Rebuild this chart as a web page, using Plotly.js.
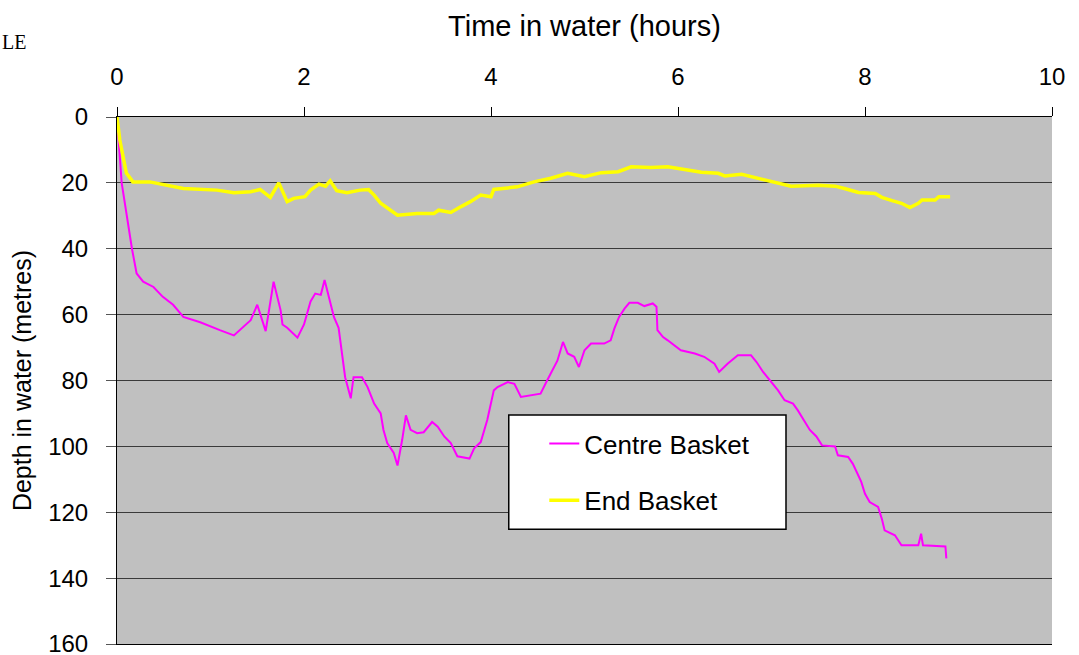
<!DOCTYPE html>
<html>
<head>
<meta charset="utf-8">
<script src="https://cdn.plot.ly/plotly-3.0.1.min.js"></script>
<style>html,body{margin:0;padding:0;background:#fff;}#chart{width:1079px;height:655px;}</style>
</head>
<body>
<div id="chart"></div>
<script>
// Time in water (hours) and depth (metres)
const centreTime = [0,0.05,0.16,0.21,0.28,0.39,0.49,0.6,0.71,0.89,1.1,1.25,1.43,1.5,1.59,1.675,1.75,1.77,1.82,1.93,2.0,2.07,2.12,2.18,2.22,2.28,2.32,2.37,2.41,2.44,2.5,2.53,2.62,2.68,2.75,2.82,2.85,2.89,2.96,3.0,3.05,3.09,3.14,3.21,3.28,3.37,3.43,3.5,3.57,3.64,3.77,3.82,3.89,3.96,4.03,4.07,4.18,4.25,4.32,4.53,4.6,4.71,4.77,4.82,4.89,4.94,5.0,5.07,5.21,5.28,5.32,5.37,5.43,5.48,5.57,5.64,5.73,5.77,5.78,5.84,5.89,5.96,6.03,6.18,6.28,6.39,6.44,6.53,6.64,6.78,6.84,6.91,6.98,7.07,7.14,7.23,7.28,7.34,7.41,7.48,7.54,7.68,7.71,7.82,7.87,7.92,7.96,8.0,8.05,8.14,8.18,8.21,8.32,8.39,8.57,8.6,8.62,8.86,8.87];
const centreDepth = [0,20,40,47.5,50,51.6,54.6,57,60.7,62.3,64.7,66.3,61.7,57,65,50,58.7,63,64,67,63,56,53.6,54,49.5,56,60.7,64,72.8,79,85.4,79,79,82,87,90,95,99,102,105.8,98,90.6,95,96,95.7,92.6,94,97,99,103,103.7,100.6,98.7,92,83,82,80.5,81,85,84,80,74,68.3,71.8,72.8,75.9,70.8,68.8,68.8,67.8,64.2,60.7,58.1,56.4,56.4,57.4,56.6,57.6,64.7,66.8,67.8,69.3,70.8,71.8,72.8,74.9,77.4,74.9,72.3,72.3,74.4,77.4,80,83,86,87,89,91.6,95,97,99.7,100,102.7,103.2,105.3,108.3,110.8,114.4,116.9,118.4,122,125.5,127,130,130,126.5,130,130.4,134];

const endTime = [0,0.03,0.1,0.17,0.35,0.53,0.71,1.07,1.25,1.43,1.53,1.64,1.73,1.82,1.89,2.01,2.07,2.16,2.23,2.28,2.35,2.46,2.6,2.69,2.75,2.82,2.93,3.0,3.21,3.39,3.44,3.57,3.68,3.78,3.89,4.0,4.03,4.28,4.46,4.64,4.82,5.0,5.18,5.36,5.5,5.71,5.89,6.07,6.25,6.43,6.5,6.68,6.78,6.93,7.07,7.21,7.5,7.68,7.78,7.93,8.11,8.18,8.29,8.39,8.48,8.57,8.61,8.75,8.79,8.91];
const endDepth = [0,7,17,19.7,19.7,20.7,21.7,22.2,23,22.7,22,24.4,20,25.7,24.7,24.2,22.2,20.4,21,19.4,22.4,23,22.2,22,23.7,26.2,28.3,29.8,29.3,29.3,28.3,29,27.2,25.7,23.7,24.2,22,21.2,19.7,18.6,17.1,18.1,16.9,16.6,15.1,15.3,15.1,15.9,16.8,17.1,17.9,17.4,18.1,19.3,20.2,21,20.7,21,21.7,22.9,23.2,24.4,25.4,26.2,27.5,26.2,25.2,25.2,24.2,24.2];

const seriesNames = ["Centre Basket","End Basket"];
const xTicks = [0,2,4,6,8,10];
const yTicks = [0,20,40,60,80,100,120,140,160];

const traces = [
  {x: centreTime, y: centreDepth, name: seriesNames[0], mode: 'lines', legendgroup: 'a',
   line: {color: '#FF00FF', width: 2}},
  {x: endTime, y: endDepth, name: seriesNames[1], mode: 'lines', legendgroup: 'b',
   line: {color: '#FFFF00', width: 3.5}}
];

const layout = {
  width: 1079, height: 655,
  margin: {l: 117, r: 27, t: 117, b: 11},
  paper_bgcolor: '#FFFFFF',
  plot_bgcolor: '#C0C0C0',
  font: {family: 'Liberation Sans, Arial, sans-serif', color: '#000', size: 24},
  showlegend: true,
  xaxis: {
    side: 'top', range: [0, 10], tickvals: xTicks, ticktext: xTicks.map(String),
    showgrid: false, zeroline: false, showline: true, linecolor: '#000', linewidth: 1,
    mirror: true,
    ticks: 'outside', ticklen: 9, tickcolor: '#000', tickfont: {size: 24},
    ticklabelstandoff: 12,
    title: {text: 'Time in water (hours)', font: {size: 29}, standoff: 18}
  },
  yaxis: {
    range: [160, 0], tickvals: yTicks, ticktext: yTicks.map(String),
    showgrid: true, gridcolor: '#3a3a3a', gridwidth: 1, zeroline: false,
    showline: true, linecolor: '#000', linewidth: 1,
    ticks: 'outside', ticklen: 10, tickcolor: '#555', tickfont: {size: 24},
    ticklabelstandoff: 13, ticklabeloverflow: 'allow',
    title: {text: 'Depth in water (metres)', font: {size: 25}, standoff: 9}
  },
  legend: {
    x: 0.457, y: 0.425, xanchor: 'left', yanchor: 'top',
    bgcolor: 'rgba(0,0,0,0)', borderwidth: 0,
    font: {size: 26}, tracegroupgap: 20, traceorder: 'grouped', itemwidth: 30
  },
  shapes: [
    {type: 'rect', xref: 'paper', yref: 'paper', x0: 0.419, x1: 0.7155, y0: 0.2177, y1: 0.4345,
     fillcolor: '#FFFFFF', line: {color: '#000', width: 1.5}, layer: 'above'}
  ],
  annotations: [
    {text: 'LE', xref: 'paper', yref: 'paper', x: -0.1251, y: 1.142, xanchor: 'left', yanchor: 'middle',
     showarrow: false, font: {family: 'Liberation Serif, Times New Roman, serif', size: 20, color: '#000'}}
  ]
};

Plotly.newPlot('chart', traces, layout, {displayModeBar: false, staticPlot: true});
</script>
</body>
</html>
